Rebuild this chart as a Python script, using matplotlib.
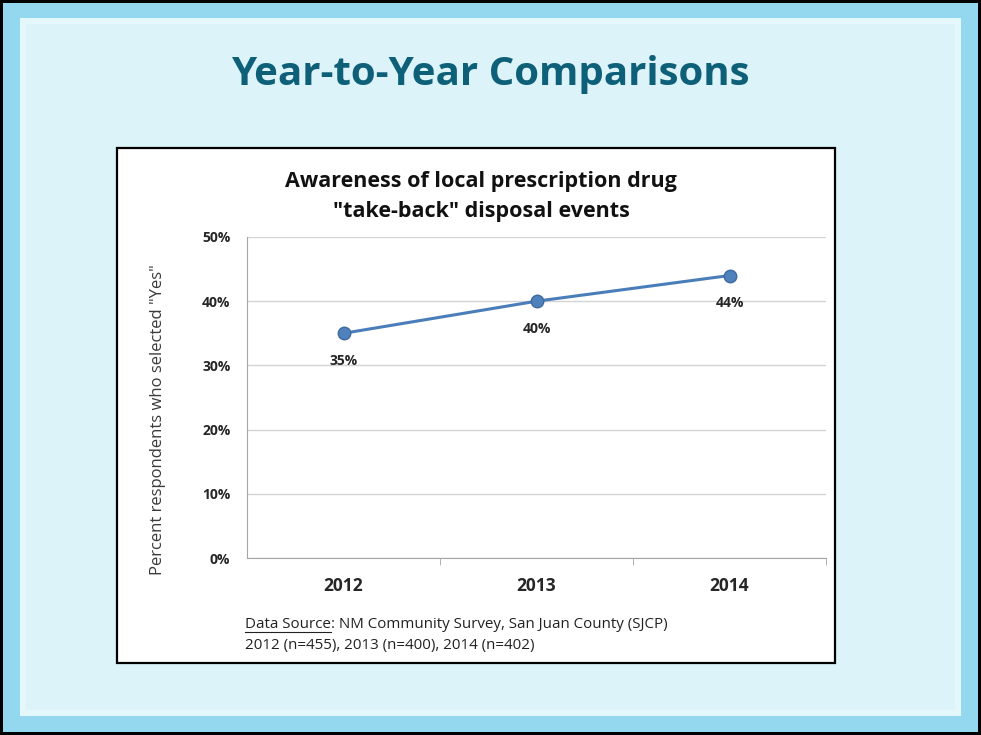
import numpy as np
import matplotlib.pyplot as plt
from matplotlib.patches import Rectangle

# survey results
years = ['2012', '2013', '2014']
pct_yes = [35, 40, 44]
yticks = [0, 10, 20, 30, 40, 50]

W, H = 981, 735
fig = plt.figure(figsize=[W / 100, H / 100], dpi=100)
fig.patch.set_facecolor('black')

def box(x0, y0, x1, y1, **kw):
    # rectangle given in pixel coords from the top left corner
    r = Rectangle((x0 / W, 1 - y1 / H), (x1 - x0) / W, (y1 - y0) / H,
                  transform=fig.transFigure, zorder=-1, **kw)
    fig.add_artist(r)
    return r

# slide frame and panel
box(3, 3, 978, 732, facecolor='#93d8ee', edgecolor='none')
box(20, 18, 961, 716, facecolor='#e4f7fb', edgecolor='none')
box(26, 24, 955, 710, facecolor='#dcf3f9', edgecolor='none')

fig.text(0.5, 1 - 75 / H, 'Year-to-Year Comparisons', ha='center', va='center',
         fontsize=29, fontweight='bold', color='#0e5f78', family='Open Sans')

# white chart box
box(117, 148, 835, 663, facecolor='white', edgecolor='black', linewidth=1.6)

ax = fig.add_axes([247 / W, 1 - 558 / H, (826 - 247) / W, (558 - 237) / H])
ax.set_zorder(2)
ax.set_facecolor('white')
x = np.arange(len(years))
ax.plot(x, pct_yes, color='#4a7ebb', linewidth=2.2, marker='o', markersize=9,
        markerfacecolor='#4f81bd', markeredgecolor='#3f6aa0', zorder=3)
for xi, v in zip(x, pct_yes):
    ax.annotate(f'{v}%', (xi, v), xytext=(0, -20), textcoords='offset points',
                ha='center', va='center', fontsize=10, fontweight='bold',
                color='#262626', family='Open Sans')

ax.set_xlim(-0.5, 2.5)
ax.set_ylim(0, 50)
ax.set_yticks(yticks)
ax.set_yticklabels([f'{t}%' for t in yticks], fontsize=10, fontweight='bold',
                   family='Open Sans', color='#262626')
ax.set_xticks(x)
ax.set_xticklabels(years, fontsize=12.5, fontweight='bold', family='Open Sans',
                   color='#262626')
ax.set_xticks([0.5, 1.5, 2.5], minor=True)
ax.tick_params(axis='x', which='major', length=0, pad=14)
ax.tick_params(axis='x', which='minor', length=5, color='#a6a6a6')
ax.tick_params(axis='y', length=0, pad=12)
ax.grid(axis='y', color='#d4d4d4', linewidth=1)
ax.set_axisbelow(True)
for s in ['top', 'right']:
    ax.spines[s].set_visible(False)
ax.spines['left'].set_color('#a6a6a6')
ax.spines['bottom'].set_color('#a6a6a6')

fig.text(158 / W, 1 - 420 / H, 'Percent respondents who selected "Yes"',
         rotation=90, ha='center', va='center', fontsize=12,
         color='#3a3a3a', family='Open Sans')

fig.text(481 / W, 1 - 181 / H, 'Awareness of local prescription drug',
         ha='center', va='center', fontsize=15.5, fontweight='bold',
         color='#111111', family='Open Sans')
fig.text(481 / W, 1 - 212 / H, '"take-back" disposal events',
         ha='center', va='center', fontsize=15.5, fontweight='bold',
         color='#111111', family='Open Sans')

# data source note
t = fig.text(245 / W, 1 - 625 / H, 'Data Source', ha='left', va='center',
             fontsize=10.9, color='#222222', family='Open Sans')
fig.canvas.draw()
bb = t.get_window_extent()
fig.add_artist(plt.Line2D([bb.x0 / W, bb.x1 / W], [(bb.y0 + 1) / H] * 2,
                          color='#222222', linewidth=0.8))
fig.text(bb.x1 / W, 1 - 625 / H, ': NM Community Survey, San Juan County (SJCP)',
         ha='left', va='center', fontsize=10.9, color='#222222', family='Open Sans')
fig.text(245 / W, 1 - 646 / H, '2012 (n=455), 2013 (n=400), 2014 (n=402)',
         ha='left', va='center', fontsize=10.9, color='#222222', family='Open Sans')

fig.savefig('out.png', dpi=100, facecolor=fig.get_facecolor())
